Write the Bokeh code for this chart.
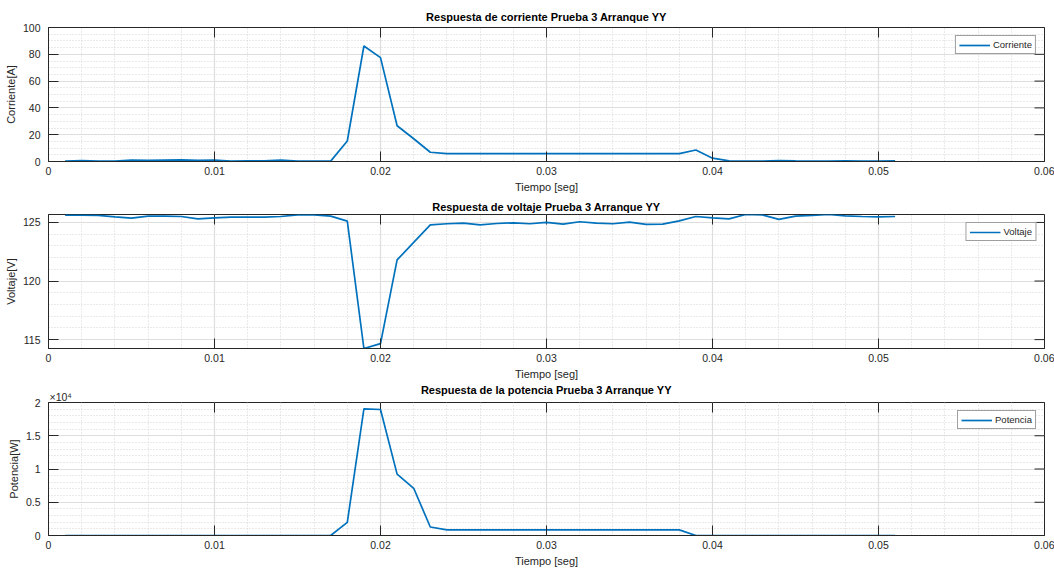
import math
from bokeh.plotting import figure
from bokeh.layouts import column
from bokeh.models import (Range1d, FixedTicker, Legend, LegendItem,
                          Title, NumeralTickFormatter)
from bokeh.embed import file_html
from bokeh.resources import INLINE

# ---- data ----
tiempo = [round(0.001 * i, 3) for i in range(1, 52)]

corriente = [0.25, 0.7, 0.3, 0.3, 1.0, 0.8, 1.0, 1.2, 0.8, 1.0,
             0.3, 0.5, 0.5, 1.0, 0.3, 0.3, 0.3, 15.3, 86.2, 77.5,
             26.7, 17.0, 6.9, 5.9, 5.9, 5.9, 5.9, 5.9, 5.9, 5.9,
             5.9, 5.9, 5.9, 5.9, 5.9, 5.9, 5.9, 5.9, 8.6, 2.5,
             0.5, 0.3, 0.3, 0.7, 0.4, 0.3, 0.3, 0.5, 0.3, 0.3, 0.4]

voltaje = [125.62, 125.62, 125.60, 125.48, 125.37, 125.54, 125.54, 125.51, 125.31, 125.40,
           125.45, 125.45, 125.45, 125.51, 125.65, 125.65, 125.54, 125.11, 114.24, 114.66,
           121.80, 123.30, 124.80, 124.89, 124.94, 124.80, 124.91, 124.97, 124.89, 125.00,
           124.86, 125.06, 124.94, 124.89, 125.03, 124.83, 124.86, 125.14, 125.51, 125.40,
           125.31, 125.68, 125.65, 125.26, 125.54, 125.60, 125.68, 125.57, 125.51, 125.48, 125.51]

potencia = [0, 0, 0, 0, 0, 0, 0, 0, 0, 0,
            0, 0, 0, 0, 0, 0, 0, 1975, 19050, 18950,
            9230, 7100, 1280, 840, 840, 840, 840, 840, 840, 840,
            840, 840, 840, 840, 840, 840, 840, 840, 0, 0,
            0, 0, 0, 0, 0, 0, 0, 0, 0, 0, 0]

x_ticks = [0, 0.01, 0.02, 0.03, 0.04, 0.05, 0.06]
x_minor = [round(0.002 * i, 3) for i in range(31)]

FONT = "Liberation Sans"
DARK = "#262626"
BLUE = "#0072BD"


def style_axis(ax, label_standoff):
    ax.major_tick_in = 10
    ax.major_tick_out = 0
    ax.minor_tick_line_color = None
    ax.major_tick_line_color = DARK
    ax.axis_line_color = DARK
    ax.major_label_text_font = FONT
    ax.major_label_text_color = DARK
    ax.major_label_text_font_size = "10.5px"
    ax.major_label_standoff = label_standoff
    ax.axis_label_text_font = FONT
    ax.axis_label_text_font_size = "11px"
    ax.axis_label_text_font_style = "normal"
    ax.axis_label_text_color = DARK
    ax.axis_label_standoff = 3


def style_title(t, standoff, size="11px", bold=True):
    t.text_font = FONT
    t.text_font_size = size
    t.text_font_style = "bold" if bold else "normal"
    t.text_color = "#000000" if bold else DARK
    try:
        t.standoff = standoff
    except Exception:
        t.standoff = 0


def make_fig(height, top, below, title_standoff, y_range, yticks, yminor,
             ylabel, title, yvals, legend_label, yoverrides=None):
    p = figure(width=1054, height=height, output_backend="svg", toolbar_location=None,
               x_range=Range1d(x_ticks[0], x_ticks[-1]), y_range=y_range,
               min_border_left=48, min_border_right=10,
               min_border_top=top, min_border_bottom=below)
    p.background_fill_color = "white"
    p.border_fill_color = "white"
    p.outline_line_color = DARK
    p.outline_line_width = 1

    xt = FixedTicker(ticks=x_ticks, minor_ticks=x_minor)
    yt = FixedTicker(ticks=yticks, minor_ticks=yminor)
    p.xaxis.ticker = xt
    p.yaxis.ticker = yt
    p.xaxis.formatter = NumeralTickFormatter(format="0.[00]")
    if yoverrides:
        p.yaxis.major_label_overrides = yoverrides
    p.xaxis.axis_label = "Tiempo [seg]"
    p.yaxis.axis_label = ylabel
    style_axis(p.xaxis[0], 1)
    style_axis(p.yaxis[0], 4)

    for g in (p.xgrid[0], p.ygrid[0]):
        g.grid_line_color = "#dedede"
        g.grid_line_width = 1.2
        g.minor_grid_line_color = "#d4d4d4"
        g.minor_grid_line_dash = "1 2"
        g.minor_grid_line_width = 1

    p.title.text = title
    p.title.align = "center"
    style_title(p.title, title_standoff)

    # box ticks on the right and top edges (MATLAB "box on")
    p.scatter([x_ticks[-1]] * len(yticks), yticks, marker="dash",
              size=20, line_color=DARK, line_width=1)
    p.scatter(x_ticks, [y_range.end] * len(x_ticks), marker="dash", angle=math.pi / 2,
              size=20, line_color=DARK, line_width=1)

    r = p.line(tiempo, yvals, line_color=BLUE, line_width=1.7)
    leg = Legend(items=[LegendItem(label=legend_label, renderers=[r])],
                 location="top_right")
    leg.border_line_color = "#404040"
    leg.border_line_width = 1.2
    leg.background_fill_color = "white"
    leg.background_fill_alpha = 1
    leg.label_text_font = FONT
    leg.label_text_font_size = "9.5px"
    leg.label_text_color = DARK
    leg.glyph_width = 31
    leg.glyph_height = 10
    leg.label_height = 10
    leg.label_standoff = 3
    leg.padding = 3
    leg.spacing = 0
    leg.margin = 8
    p.add_layout(leg)
    return p


p1 = make_fig(195, 27, 34, 9, Range1d(0, 100), [0, 20, 40, 60, 80, 100],
              list(range(0, 101, 5)), "Corriente[A]",
              "Respuesta de corriente Prueba 3 Arranque YY", corriente, "Corriente")

p2 = make_fig(187, 19, 33, 3, Range1d(min(voltaje), max(voltaje)), [115, 120, 125],
              list(range(114, 127)), "Voltaje[V]",
              "Respuesta de voltaje Prueba 3 Arranque YY", voltaje, "Voltaje")

p3 = make_fig(187, 20, 32, 0, Range1d(0, 20000), [0, 5000, 10000, 15000, 20000],
              list(range(0, 20001, 1000)), "Potencia[W]",
              "", potencia, "Potencia",
              yoverrides={0: "0", 5000: "0.5", 10000: "1", 15000: "1.5", 20000: "2"})

# exponent marker (nearest to the frame) and the title on the same line
t_exp = Title(text="×10⁴", align="left", offset=1)
style_title(t_exp, 0, size="10.5px", bold=False)
p3.add_layout(t_exp, "above")
t_main = Title(text="Respuesta de la potencia Prueba 3 Arranque YY", align="center")
style_title(t_main, -14)
p3.add_layout(t_main, "above")

layout = column(p1, p2, p3, spacing=0)
open("out.html", "w").write(file_html(layout, INLINE))
